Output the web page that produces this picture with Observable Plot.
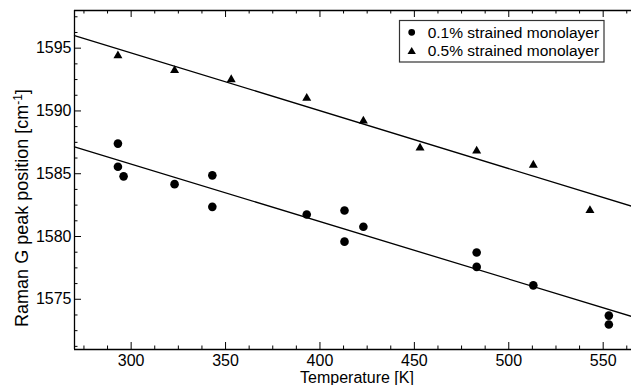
<!DOCTYPE html>
<html><head><meta charset="utf-8">
<script src="https://cdn.jsdelivr.net/npm/d3@7"></script>
<script src="https://cdn.jsdelivr.net/npm/@observablehq/plot@0.6"></script>
<style>body{margin:0;background:#fff} svg{display:block}</style>
</head><body><div id="chart"></div>
<script>
const seriesNames = ["0.1% strained monolayer", "0.5% strained monolayer"];
const tempLow = [293, 293, 296, 323, 343, 343, 393, 413, 413, 423, 483, 483, 513, 553, 553];
const shiftLow = [1587.40, 1585.55, 1584.79, 1584.17, 1584.87, 1582.36, 1581.75, 1582.07, 1579.59, 1580.78, 1578.72, 1577.58, 1576.11, 1573.70, 1572.99];
const tempHigh = [293, 323, 353, 393, 423, 453, 483, 513, 543];
const shiftHigh = [1594.40, 1593.23, 1592.50, 1591.02, 1589.20, 1587.06, 1586.82, 1585.69, 1582.07];
const xDomain = [270, 565];
const yDomain = [1571, 1598];
const xTicks = [300, 350, 400, 450, 500, 550];
const yTicks = [1575, 1580, 1585, 1590, 1595];
const xLabel = "Temperature [K]";
const yLabel = "Raman G peak position [cm-1]";

const W = 631, H = 385, mL = 74, mR = 0, mT = 10, mB = 36;
const fh = H - mT - mB, fw = W - mL - mR;
const FONT = "'Liberation Sans', Arial, Helvetica, sans-serif";

const low = tempLow.map((t, i) => ({T: t, G: shiftLow[i], s: seriesNames[0]}));
const high = tempHigh.map((t, i) => ({T: t, G: shiftHigh[i], s: seriesNames[1]}));

function fitLine(xs, ys, name) {
  const mx = d3.mean(xs), my = d3.mean(ys);
  const b = d3.sum(xs, (x, i) => (x - mx) * (ys[i] - my)) / d3.sum(xs, x => (x - mx) ** 2);
  return xDomain.map(x => ({T: x, G: my + b * (x - mx), s: name}));
}
const fits = [...fitLine(tempLow, shiftLow, seriesNames[0]), ...fitLine(tempHigh, shiftHigh, seriesNames[1])];

const xMinor = d3.range(275, xDomain[1], 12.5).filter(v => !xTicks.includes(v));
const yMinor = d3.range(1571.25, yDomain[1], 1.25).filter(v => !yTicks.includes(v));

const svg = Plot.plot({
  width: W, height: H,
  marginLeft: mL, marginRight: mR, marginTop: mT, marginBottom: mB,
  style: {fontFamily: FONT, fontSize: "16px", color: "black", background: "white"},
  x: {domain: xDomain},
  y: {domain: yDomain},
  marks: [
    Plot.ruleX(xTicks, {x: d => d, insetTop: fh - 7, stroke: "black"}),
    Plot.ruleX(xMinor, {x: d => d, insetTop: fh - 3.5, stroke: "black"}),
    Plot.ruleX(xTicks, {x: d => d, insetBottom: fh - 7, stroke: "black"}),
    Plot.ruleX(xMinor, {x: d => d, insetBottom: fh - 3.5, stroke: "black"}),
    Plot.ruleY(yTicks, {y: d => d, insetRight: fw - 7, stroke: "black"}),
    Plot.ruleY(yMinor, {y: d => d, insetRight: fw - 3.5, stroke: "black"}),
    Plot.ruleX([xDomain[0]], {stroke: "black", strokeWidth: 1.3}),
    Plot.ruleY(yDomain, {stroke: "black", strokeWidth: 1.3}),
    Plot.line(fits, {x: "T", y: "G", z: "s", stroke: "black", strokeWidth: 1.3}),
    Plot.dot(low, {x: "T", y: "G", r: 4.3, fill: "black", symbol: "circle"}),
    Plot.dot(high, {x: "T", y: "G", r: 3.35, fill: "black", symbol: "triangle"}),
    Plot.axisX(xTicks, {anchor: "bottom", tickSize: 0, tickPadding: 5, label: null, fontSize: 16, tickFormat: d3.format("d")}),
    Plot.axisY(yTicks, {anchor: "left", tickSize: 0, tickPadding: 3, label: null, fontSize: 16, tickFormat: d3.format("d")}),
    Plot.text([xLabel], {text: d => d, frameAnchor: "bottom", dy: 33, dx: 4, lineAnchor: "bottom", textAnchor: "middle", fontSize: 16}),
    Plot.text([yLabel], {text: d => d, frameAnchor: "left", dx: -47, dy: 28, rotate: -90, lineAnchor: "bottom", textAnchor: "middle", fontSize: 18})
  ]
});

// superscript in y label
d3.select(svg).selectAll("text").filter(function () { return this.textContent === yLabel; }).each(function () {
  const t = d3.select(this);
  const m = yLabel.match(/^(.*\[cm)(-1)(\])$/);
  t.text(null);
  t.append("tspan").text(m[1]);
  t.append("tspan").attr("dy", "-0.45em").attr("font-size", "12px").text(m[2]);
  t.append("tspan").attr("dy", "0.3em").text(m[3]);
});

// legend
const lg = d3.select(svg).append("g").attr("font-family", FONT).attr("font-size", "15.5px").attr("text-anchor", "start");
lg.append("rect").attr("x", 399.5).attr("y", 20.5).attr("width", 204.5).attr("height", 41.5)
  .attr("fill", "white").attr("stroke", "#333").attr("stroke-width", 1.2);
const symbols = [d3.symbolCircle, d3.symbolTriangle];
const sizes = [Math.PI * 3.4 * 3.4, Math.PI * 3.1 * 3.1];
seriesNames.forEach((name, i) => {
  const cy = 32.3 + i * 18.6;
  lg.append("path").attr("d", d3.symbol(symbols[i], sizes[i])())
    .attr("transform", `translate(411.7,${cy + (i ? 0.8 : 0)})`).attr("fill", "black");
  lg.append("text").attr("x", 427.7).attr("y", cy + 5.4).attr("fill", "black")
    .attr("text-anchor", "start").text(name);
});

document.getElementById("chart").appendChild(svg);
</script>
</body></html>
